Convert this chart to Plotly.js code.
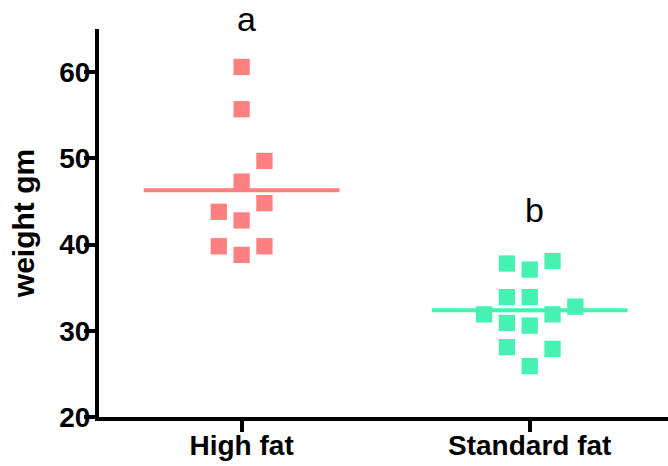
<!DOCTYPE html>
<html>
<head>
<meta charset="utf-8">
<script src="https://cdn.plot.ly/plotly-3.0.1.min.js"></script>
<style>
  html, body { margin: 0; padding: 0; background: #fff; }
  #chart { width: 668px; height: 466px; }
</style>
</head>
<body>
<div id="chart"></div>
<script>
// Body weight per diet group (g), in recording order
const groups = ['High fat', 'Standard fat'];
const highFat = [60.6, 55.7, 47.3, 42.8, 38.8, 49.7, 44.8, 43.8, 39.8, 39.8];
const standardFat = [37.1, 38.1, 37.8, 33.9, 30.6, 25.9, 31.9, 33.9, 27.9, 28.1, 30.9, 32.8, 31.9];
const groupLetters = ['a', 'b'];
const colors = ['#FF8080', '#45F2B2'];

const W = 668, H = 466;
const margin = { l: 99, r: 0, t: 29, b: 49 };
const yRange = [20, 65];
const xRange = [-0.495, 1.48];
const markerPx = 16.3;
const slotPx = 1.4 * markerPx;       // horizontal step and vertical clearance
const meanHalfWidth = 0.34;          // half length of the mean bar, category units

const pxPerY = (H - margin.t - margin.b) / (yRange[1] - yRange[0]);
const pxPerX = (W - margin.l - margin.r) / (xRange[1] - xRange[0]);
const clearY = slotPx / pxPerY;
const slotX = slotPx / pxPerX;

// Column scatter: each point takes the first free slot, centre first, then
// alternating right/left, so that no two symbols overlap.
function swarm(values, centre) {
  const placed = [];
  const prefs = [0, 1, -1, 2, -2, 3, -3, 4, -4];
  return values.map(v => {
    const slot = prefs.find(s => !placed.some(p => p.slot === s && Math.abs(p.v - v) < clearY));
    placed.push({ v, slot });
    return centre + slot * slotX;
  });
}

const mean = a => a.reduce((s, v) => s + v, 0) / a.length;
const series = [highFat, standardFat];

const traces = [];
series.forEach((vals, i) => {
  const m = mean(vals);
  traces.push({
    type: 'scatter', mode: 'lines',
    x: [i - meanHalfWidth, i + meanHalfWidth], y: [m, m],
    line: { color: colors[i], width: 4 },
    hoverinfo: 'skip', showlegend: false
  });
});
series.forEach((vals, i) => {
  traces.push({
    type: 'scatter', mode: 'markers',
    x: swarm(vals, i), y: vals,
    marker: { symbol: 'square', size: markerPx, color: colors[i], line: { width: 0 } },
    name: groups[i], showlegend: false
  });
});

const fontFamily = 'Liberation Sans, Arial, sans-serif';
const boldFont = { family: fontFamily, size: 28, color: '#000', weight: 'bold' };

const layout = {
  width: W, height: H,
  margin: margin,
  paper_bgcolor: '#fff', plot_bgcolor: '#fff',
  showlegend: false,
  xaxis: {
    range: xRange, tickmode: 'array', tickvals: [0, 1], ticktext: groups,
    showgrid: false, zeroline: false,
    showline: true, linecolor: '#000', linewidth: 4,
    ticks: 'outside', ticklen: 11, tickwidth: 4, tickcolor: '#000',
    tickfont: boldFont, ticklabelstandoff: -11
  },
  yaxis: {
    range: yRange, tickmode: 'array', tickvals: [20, 30, 40, 50, 60],
    showgrid: false, zeroline: false,
    showline: true, linecolor: '#000', linewidth: 4,
    ticks: 'outside', ticklen: 11, tickwidth: 4, tickcolor: '#000',
    tickfont: boldFont, ticklabelstandoff: -12,
    title: { text: 'weight gm', font: { family: fontFamily, size: 30, color: '#000', weight: 'bold' }, standoff: 17 }
  },
  annotations: groupLetters.map((t, i) => ({
    text: t, xref: 'x', yref: 'paper', x: i, y: i === 0 ? 1.026 : 0.534,
    xshift: 5, showarrow: false, xanchor: 'center', yanchor: 'middle',
    font: { family: fontFamily, size: 34, color: '#000' }
  }))
};

Plotly.newPlot('chart', traces, layout, { displayModeBar: false, staticPlot: true });
</script>
</body>
</html>
